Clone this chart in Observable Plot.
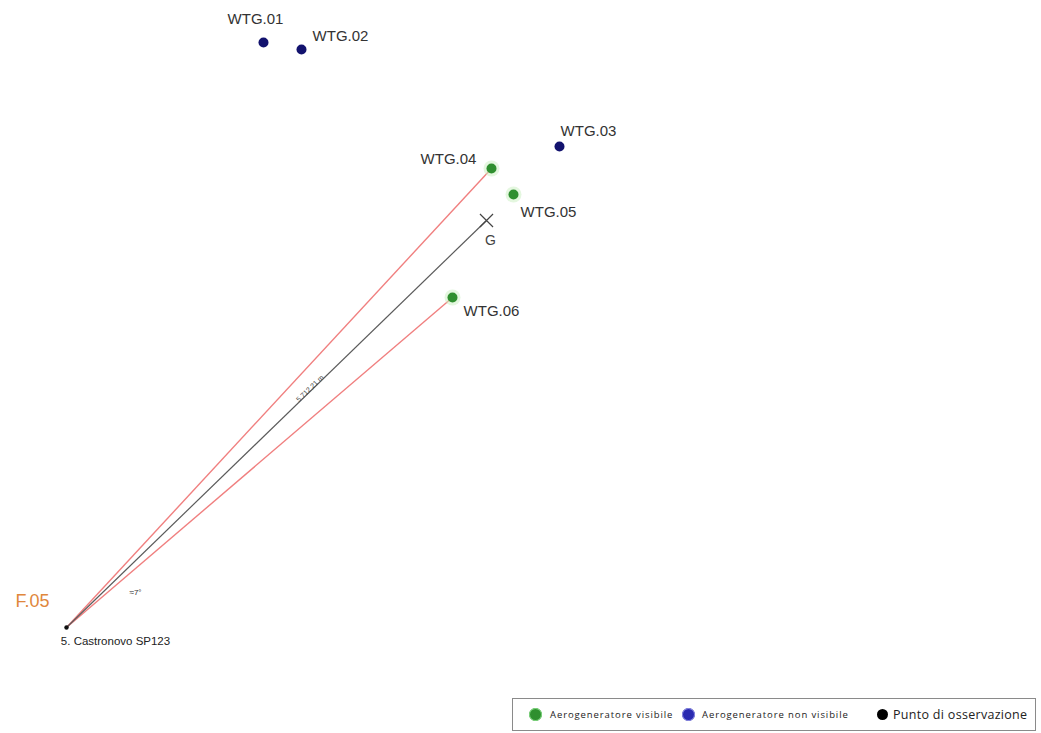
<!DOCTYPE html>
<html>
<head>
<meta charset="utf-8">
<script src="https://cdn.jsdelivr.net/npm/d3@7"></script>
<script src="https://cdn.jsdelivr.net/npm/@observablehq/plot@0.6"></script>
<style>
  body { margin: 0; background: #fff; font-family: "Liberation Sans", Arial, sans-serif; }
  #wrap { position: relative; width: 1041px; height: 733px; }
  #legend { position: absolute; left: 512px; top: 698px; width: 524px; height: 33px; border: 1px solid #8a8a8a;
            box-sizing: border-box; font-family: "Open Sans", sans-serif; color: #222; }
  .sw { position: absolute; border-radius: 50%; }
  .tx { position: absolute; white-space: nowrap; }
</style>
</head>
<body>
<div id="wrap">
  <div id="chart"></div>
  <div id="legend"></div>
</div>
<script>
// Map positions (map units, origin top-left)
const turbineNames = ["WTG.01", "WTG.02", "WTG.03", "WTG.04", "WTG.05", "WTG.06"];
const turbineX = [263, 301, 559, 491, 513, 452];
const turbineY = [42, 49, 146, 168, 194, 297];
const turbineVisible = [false, false, false, true, true, true];
const labelDx = [-8, 39, 29, -43, 35, 39];
const labelDy = [-23, -13, -15, -9, 18, 14];

const observer = { name: "F.05", place: "5. Castronovo SP123", x: 66, y: 627 };
const centroid = { name: "G", x: 486, y: 220 };
const distanceLabel = "5.712,21 m";
const angleLabel = "≈7°";

const visibleColor = "#2f8f2f";
const hiddenColor = "#12126e";

const turbines = turbineNames.map((n, i) => ({
  name: n, x: turbineX[i], y: turbineY[i], visible: turbineVisible[i], dx: labelDx[i], dy: labelDy[i]
}));
const visibleT = turbines.filter(d => d.visible);
const edgeTargets = [visibleT[0], visibleT[2]]; // WTG.04 and WTG.06 bound the view cone

const sightLines = edgeTargets.map(t => ({ x1: observer.x, y1: observer.y, x2: t.x, y2: t.y }));
const angleDeg = Math.atan2(centroid.y - observer.y, centroid.x - observer.x) * 180 / Math.PI;
const midFrac = 0.58;
const mid = { x: observer.x + (centroid.x - observer.x) * midFrac, y: observer.y + (centroid.y - observer.y) * midFrac };

const W = 1041, H = 690;
const chart = Plot.plot({
  width: W, height: H,
  margin: 0,
  x: { domain: [0, W], range: [0, W], axis: null },
  y: { domain: [0, H], range: [0, H], axis: null },
  style: { fontFamily: "Liberation Sans, Arial, sans-serif", background: "#fff" },
  marks: [
    Plot.link(sightLines, { x1: "x1", y1: "y1", x2: "x2", y2: "y2", stroke: "#f07f7f", strokeWidth: 1.4 }),
    Plot.link([centroid], { x1: () => observer.x, y1: () => observer.y, x2: "x", y2: "y", stroke: "#5a5a5a", strokeWidth: 1.2 }),
    Plot.dot([centroid], { x: "x", y: "y", symbol: "times", r: 6, stroke: "#444", strokeWidth: 1.2 }),
    Plot.text([centroid], { x: "x", y: "y", text: "name", dx: 4, dy: 20, fontSize: 14, fill: "#444" }),
    Plot.dot(visibleT, { x: "x", y: "y", r: 8, fill: "#c9f0c0", fillOpacity: 0.5 }),
    Plot.dot(turbines, { x: "x", y: "y", r: 5, fill: d => d.visible ? visibleColor : hiddenColor }),
    Plot.text(turbines, { x: d => d.x + d.dx, y: d => d.y + d.dy, text: "name", fontSize: 15, fill: "#333" }),
    Plot.text([mid], { x: "x", y: "y", text: [distanceLabel], rotate: angleDeg, fontSize: 7, fill: "#444", dy: -3 }),
    Plot.text([observer], { x: "x", y: "y", text: [angleLabel], dx: 69, dy: -35, fontSize: 8, fill: "#333" }),
    Plot.dot([observer], { x: "x", y: "y", r: 2.2, fill: "#111" }),
    Plot.text([observer], { x: "x", y: "y", text: "name", dx: -34, dy: -26, fontSize: 18, fill: "#e0873c" }),
    Plot.text([observer], { x: "x", y: "y", text: "place", dx: 49, dy: 14, fontSize: 11.5, fill: "#222" })
  ]
});
document.getElementById("chart").append(chart);

// Legend
const legendLabels = ["Aerogeneratore visibile", "Aerogeneratore non visibile", "Punto di osservazione"];
const legendColors = [visibleColor, "#2a2ab0", "#000"];
const swLeft = [16, 169, 364];
const txLeft = [37, 189, 380];
const txSize = [9.5, 9.5, 12.5];
const txSpacing = [0.9, 0.9, 0.3];
const lg = document.getElementById("legend");
legendLabels.forEach((l, i) => {
  const sw = document.createElement("span");
  sw.className = "sw";
  const s = i === 2 ? 11 : 13;
  sw.style.width = s + "px"; sw.style.height = s + "px";
  sw.style.left = swLeft[i] + "px";
  sw.style.top = (15.5 - s / 2) + "px";
  sw.style.background = legendColors[i];
  if (i < 2) sw.style.boxShadow = "0 0 0 1px " + (i === 0 ? "#7fd77f" : "#8a8ae0") + " inset";
  const tx = document.createElement("span");
  tx.className = "tx";
  tx.textContent = l;
  tx.style.left = txLeft[i] + "px";
  tx.style.fontSize = txSize[i] + "px";
  tx.style.letterSpacing = txSpacing[i] + "px";
  tx.style.top = (15.5 - txSize[i] * 0.7) + "px";
  lg.append(sw, tx);
});
</script>
</body>
</html>
